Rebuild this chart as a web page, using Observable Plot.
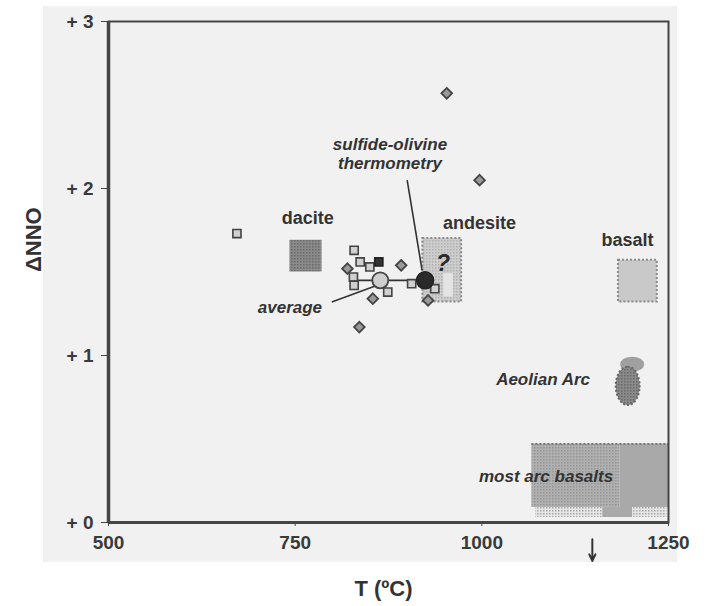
<!DOCTYPE html>
<html>
<head>
<meta charset="utf-8">
<script src="https://cdn.jsdelivr.net/npm/d3@7"></script>
<script src="https://cdn.jsdelivr.net/npm/@observablehq/plot@0.6"></script>
<style>
  html, body { margin: 0; padding: 0; background: #ffffff; }
</style>
</head>
<body>
<div id="chart"></div>
<script>
// ---- data ----
const xTicks = [500, 750, 1000, 1250];
const yTicks = [0, 1, 2, 3];
const xLabel = "T (ºC)";
const yLabel = "ΔNNO";

// diamond-shaped samples
const diamondT = [953, 997, 836, 892, 820, 854, 928];
const diamondN = [2.57, 2.05, 1.17, 1.54, 1.52, 1.34, 1.33];

// square samples
const squareT = [672, 829, 837, 850, 828, 829, 874, 906, 937];
const squareN = [1.73, 1.63, 1.56, 1.53, 1.47, 1.42, 1.38, 1.43, 1.40];

// dark square sample
const darkSquareT = [862];
const darkSquareN = [1.56];

// average (open circle) and sulfide-olivine thermometry (filled circle)
const averageT = [864];
const averageN = [1.45];
const sulfideT = [924];
const sulfideN = [1.45];

// fields
const fieldNames = ["dacite", "andesite", "basalt"];
const fieldT0 = [743, 921, 1183];
const fieldT1 = [786, 973, 1235];
const fieldN0 = [1.50, 1.32, 1.32];
const fieldN1 = [1.69, 1.70, 1.57];

// andesite inner light strip
const andesiteStripT0 = [949];
const andesiteStripT1 = [962];
const andesiteStripN0 = [1.35];
const andesiteStripN1 = [1.49];

// most arc basalts field (stippled part, flat part, pale strips at its base)
const arcT0 = [1067, 1185];
const arcT1 = [1185, 1250];
const arcN0 = [0.09, 0.09];
const arcN1 = [0.47, 0.47];
const arcBaseT0 = [1072, 1162, 1202];
const arcBaseT1 = [1162, 1202, 1248];
const arcBaseN0 = [0.03, 0.03, 0.03];
const arcBaseN1 = [0.09, 0.09, 0.09];

// Aeolian Arc field
const aeolianT0 = [1180];
const aeolianT1 = [1212];
const aeolianN0 = [0.70];
const aeolianN1 = [0.93];
const aeolianCapT0 = [1186];
const aeolianCapT1 = [1218];
const aeolianCapN0 = [0.90];
const aeolianCapN1 = [0.99];

// connecting / pointer lines
const linkT1 = [824, 900, 799];
const linkN1 = [1.45, 2.05, 1.32];
const linkT2 = [924, 920, 860];
const linkN2 = [1.45, 1.51, 1.42];

// arrow below the T axis
const arrowT = [1148];
const arrowN1 = [-0.1];
const arrowN2 = [-0.23];

// labels
const uprightText = ["dacite", "andesite", "basalt"];
const uprightT = [767, 997, 1195];
const uprightN = [1.82, 1.79, 1.69];
const italicText = ["sulfide-olivine\nthermometry", "average", "Aeolian Arc", "most arc basalts"];
const italicT = [877, 743, 1082, 1086];
const italicN = [2.21, 1.29, 0.86, 0.28];
const questionText = ["?"];
const questionT = [948];
const questionN = [1.55];

// ---- chart ----
const chart = Plot.plot({
  width: 708,
  height: 606,
  marginLeft: 108,
  marginRight: 40,
  marginTop: 21,
  marginBottom: 84,
  x: {domain: [500, 1250]},
  y: {domain: [0, 3]},
  style: {
    fontFamily: "'Liberation Sans', Arial, sans-serif",
    color: "#3a3a3a",
    background: "linear-gradient(#f1f1f1, #f1f1f1) 43px 6px / 634px 556px no-repeat, #ffffff",
    overflow: "visible"
  },
  marks: [
    // fields
    Plot.rect(fieldNames, {
      x1: fieldT0, x2: fieldT1, y1: fieldN0, y2: fieldN1,
      fill: ["url(#stippleDark)", "url(#stippleLight)", "#c9c9c9"],
      stroke: ["none", "#8a8a8a", "#8a8a8a"],
      strokeWidth: 2, strokeDasharray: "2,2"
    }),
    Plot.rect(andesiteStripT0, {x1: andesiteStripT0, x2: andesiteStripT1, y1: andesiteStripN0, y2: andesiteStripN1, fill: "#e4e4e4"}),
    Plot.rect(arcT0, {x1: arcT0, x2: arcT1, y1: arcN0, y2: arcN1, fill: ["url(#stippleMid)", "#a9a9a9"]}),
    Plot.rect(arcBaseT0, {x1: arcBaseT0, x2: arcBaseT1, y1: arcBaseN0, y2: arcBaseN1, fill: ["url(#stipplePale)", "#a9a9a9", "url(#stipplePale)"]}),
    // top dotted edge of most arc basalts
    Plot.ruleY(arcN1.slice(0, 1), {x1: arcT0[0], x2: arcT1[1], stroke: "#7a7a7a", strokeWidth: 2, strokeDasharray: "2,2"}),
    // Aeolian Arc
    Plot.rect(aeolianCapT0, {x1: aeolianCapT0, x2: aeolianCapT1, y1: aeolianCapN0, y2: aeolianCapN1, fill: "#a0a0a0", rx: 100, ry: 100}),
    Plot.rect(aeolianT0, {x1: aeolianT0, x2: aeolianT1, y1: aeolianN0, y2: aeolianN1, fill: "url(#stippleDark)", stroke: "#666", strokeWidth: 2, strokeDasharray: "2,2", rx: 100, ry: 100}),
    // lines
    Plot.link(linkT1, {x1: linkT1, y1: linkN1, x2: linkT2, y2: linkN2, stroke: "#333", strokeWidth: 1.6}),
    // samples
    Plot.dot(squareT, {x: squareT, y: squareN, symbol: "square", r: 4.6, fill: "#d0d0d0", stroke: "#444", strokeWidth: 1.6}),
    Plot.dot(darkSquareT, {x: darkSquareT, y: darkSquareN, symbol: "square", r: 4.6, fill: "#333", stroke: "#222", strokeWidth: 1.6}),
    Plot.dot(diamondT, {x: diamondT, y: diamondN, symbol: "diamond2", r: 4.8, fill: "#9a9a9a", stroke: "#444", strokeWidth: 1.8}),
    Plot.dot(averageT, {x: averageT, y: averageN, r: 8, fill: "#cfcfcf", stroke: "#444", strokeWidth: 1.8}),
    Plot.dot(sulfideT, {x: sulfideT, y: sulfideN, r: 8.5, fill: "#2a2a2a", stroke: "#222"}),
    // labels
    Plot.text(uprightText, {x: uprightT, y: uprightN, text: uprightText, fontSize: 18, fontWeight: "bold", fill: "#333"}),
    Plot.text(italicText, {x: italicT, y: italicN, text: italicText, fontSize: 17, fontWeight: "bold", fontStyle: "italic", fill: "#333", lineHeight: 1.15}),
    Plot.text(questionText, {x: questionT, y: questionN, text: questionText, fontSize: 23, fontWeight: "bold", fontStyle: "italic", fill: "#2a2a2a"}),
    // axes
    Plot.axisY({ticks: yTicks, tickFormat: d => "+ " + d, tickSize: 7, tickPadding: 8, fontSize: 19, fontWeight: "bold", label: null, stroke: "#444"}),
    Plot.axisX({ticks: xTicks, tickFormat: d => String(d), tickSize: 4, tickPadding: 9, fontSize: 19, fontWeight: "bold", label: null, stroke: "#444"}),
    Plot.frame({stroke: "#454545", strokeWidth: 2}),
    Plot.ruleX([500], {stroke: "#454545", strokeWidth: 3.5}),
    Plot.ruleY([0], {stroke: "#454545", strokeWidth: 3}),
    // arrow
    Plot.arrow(arrowT, {x1: arrowT, x2: arrowT, y1: arrowN1, y2: arrowN2, stroke: "#333", strokeWidth: 2, headLength: 10, headAngle: 50, clip: false}),
    // axis titles
    Plot.text([xLabel], {frameAnchor: "bottom", dx: -5, dy: 73, text: d => d, fontSize: 22, fontWeight: "bold", fill: "#333"}),
    Plot.text([yLabel], {frameAnchor: "left", dx: -75, text: d => d, rotate: -90, fontSize: 22, fontWeight: "bold", fill: "#333"})
  ]
});

// stipple patterns used by the shaded fields
const ns = "http://www.w3.org/2000/svg";
const defs = document.createElementNS(ns, "defs");
defs.innerHTML = `
  <pattern id="stippleDark" width="3" height="3" patternUnits="userSpaceOnUse">
    <rect width="3" height="3" fill="#8a8a8a"></rect>
    <rect width="1.5" height="1.5" fill="#686868"></rect>
  </pattern>
  <pattern id="stippleMid" width="3" height="3" patternUnits="userSpaceOnUse">
    <rect width="3" height="3" fill="#b0b0b0"></rect>
    <rect width="1.5" height="1.5" fill="#959595"></rect>
  </pattern>
  <pattern id="stippleLight" width="3" height="3" patternUnits="userSpaceOnUse">
    <rect width="3" height="3" fill="#cdcdcd"></rect>
    <rect width="1.5" height="1.5" fill="#b2b2b2"></rect>
  </pattern>
  <pattern id="stipplePale" width="3" height="3" patternUnits="userSpaceOnUse">
    <rect width="3" height="3" fill="#e6e6e6"></rect>
    <rect width="1.5" height="1.5" fill="#a8a8a8"></rect>
  </pattern>`;
chart.insertBefore(defs, chart.firstChild);

document.getElementById("chart").appendChild(chart);
</script>
</body>
</html>
